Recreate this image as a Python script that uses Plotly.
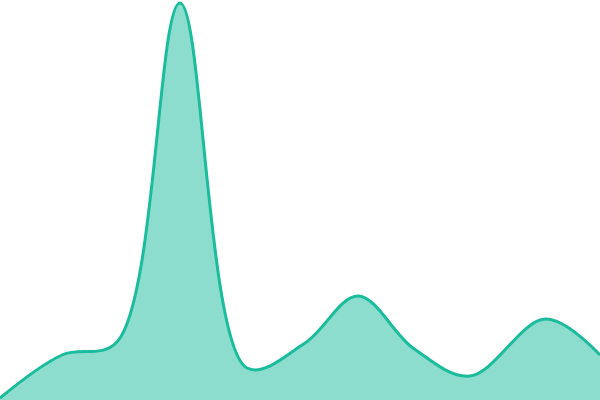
import plotly.graph_objects as go

# sample positions and values
x_values = [0, 62, 117, 180, 247, 305, 358, 413, 470, 545, 600]
y_values = [2, 45, 58, 397, 32, 57, 104, 52, 24, 81, 45]

fig = go.Figure()

fig.add_trace(go.Scatter(
    x=x_values,
    y=y_values,
    mode='lines',
    line=dict(color='#1abc9c', width=3, shape='spline', smoothing=1),
    fill='tozeroy',
    fillcolor='rgba(26, 188, 156, 0.5)',
    hoverinfo='skip',
))

fig.update_layout(
    width=600,
    height=400,
    margin=dict(l=0, r=0, t=0, b=0),
    paper_bgcolor='white',
    plot_bgcolor='white',
    showlegend=False,
    xaxis=dict(visible=False, range=[0, 600], fixedrange=True),
    yaxis=dict(visible=False, range=[0, 400], fixedrange=True),
)

# drop the default page margin so the chart fills the window
fig.write_html(
    "out.html",
    config={'displayModeBar': False},
    post_script="document.body.style.margin = '0'; document.body.style.overflow = 'hidden';",
)
